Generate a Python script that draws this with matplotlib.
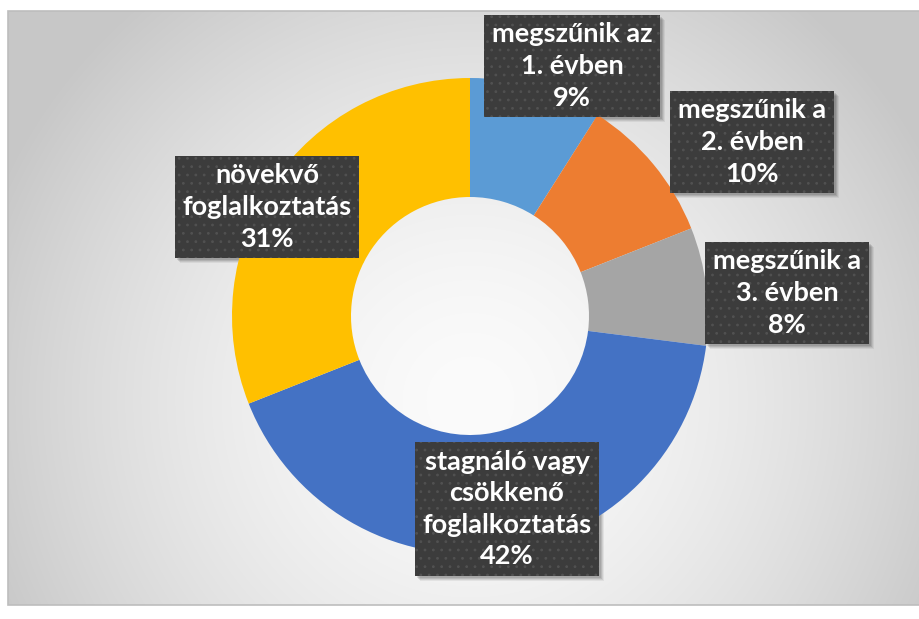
import numpy as np
import matplotlib
matplotlib.use("Agg")
import matplotlib.pyplot as plt

categories = ["megszűnik az\n1. évben", "megszűnik a\n2. évben", "megszűnik a\n3. évben",
              "stagnáló vagy\ncsökkenő\nfoglalkoztatás", "növekvő\nfoglalkoztatás"]
values = [9, 10, 8, 42, 31]
colors = ["#5B9BD5", "#ED7D31", "#A5A5A5", "#4472C4", "#FFC000"]

# label box centres (pie data coordinates)
label_pos = [(0.429, 1.050), (1.185, 0.731), (1.332, 0.097), (0.155, -0.811), (-0.853, 0.458)]

plt.rcParams["hatch.linewidth"] = 0.8
W, H = 920, 619
fig = plt.figure(figsize=(W / 100, H / 100), dpi=100)
fig.patch.set_facecolor("white")

# chart area background with radial gradient
cx0, cy0, cx1, cy1 = 8, 11, 920, 605
bg = fig.add_axes([cx0 / W, 1 - cy1 / H, (cx1 - cx0) / W, (cy1 - cy0) / H])
xs = np.arange(cx0, cx1)
ys = np.arange(cy0, cy1)
X, Y = np.meshgrid(xs, ys)
R = np.sqrt((X - 470) ** 2 + (Y - 400) ** 2)
g = 251 - 52 * np.clip(R / 520, 0, 1) ** 1.6
img = np.dstack([g, g, g]) / 255.0
bg.imshow(img, extent=(cx0, cx1, cy1, cy0), aspect="auto", interpolation="bilinear")
bg.set_xlim(cx0, cx1)
bg.set_ylim(cy1, cy0)
bg.axis("off")
fig.add_artist(plt.Rectangle((cx0 / W, 1 - cy1 / H), (cx1 - cx0) / W, (cy1 - cy0) / H,
                             transform=fig.transFigure, fill=False, edgecolor="#BDBDBD", lw=1.2))

# donut
cxp, cyp, rp = 470, 316, 238
ax = fig.add_axes([(cxp - rp) / W, 1 - (cyp + rp) / H, 2 * rp / W, 2 * rp / H])
ax.set_facecolor("none")
ax.pie(values, colors=colors, startangle=90, counterclock=False,
       wedgeprops=dict(width=0.5, edgecolor="none"), radius=1.0)
ax.set_xlim(-1, 1)
ax.set_ylim(-1, 1)
ax.set_aspect("equal")
ax.axis("off")

font = dict(family=["Lato", "DejaVu Sans"], weight="bold", size=19.5)
texts = []
for cat, val, (lx, ly) in zip(categories, values, label_pos):
    txt = f"{cat}\n{val}%"
    t = ax.text(lx, ly, txt, ha="center", va="center", color="white", linespacing=1.38,
                fontdict=font, zorder=5,
                bbox=dict(boxstyle="square,pad=0.28", facecolor="#3c3c3c", edgecolor="#515151",
                          hatch="..", linewidth=0))
    texts.append(t)

# soft drop shadows behind the label boxes
fig.canvas.draw()
renderer = fig.canvas.get_renderer()
for t in texts:
    bb = t.get_bbox_patch().get_window_extent(renderer)
    for off, a in [(5, 0.06), (4, 0.08), (3, 0.10), (2, 0.10)]:
        fig.add_artist(plt.Rectangle(((bb.x0 + off) / W, (bb.y0 - off) / H), bb.width / W, bb.height / H,
                                     transform=fig.transFigure, facecolor="black", alpha=a,
                                     edgecolor="none", zorder=0.5))
ax.set_zorder(2)

fig.savefig("out.png", dpi=100)
